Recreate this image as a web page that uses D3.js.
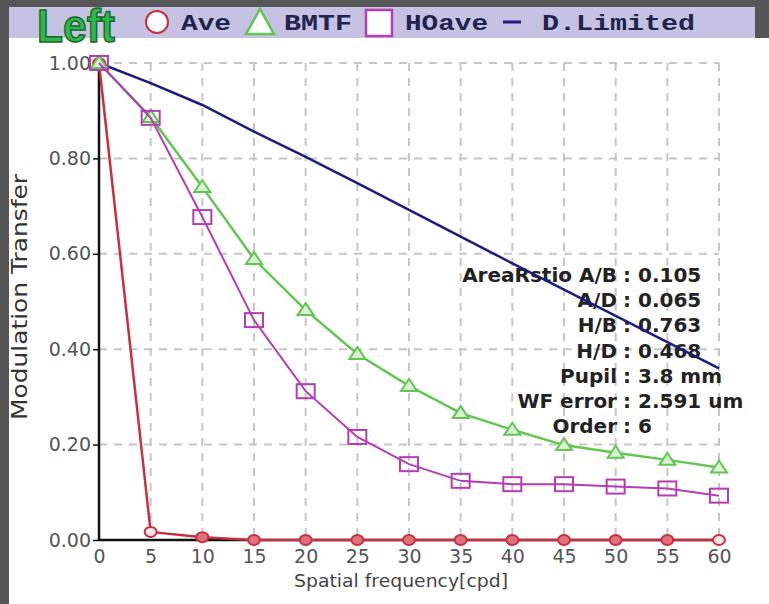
<!DOCTYPE html>
<html>
<head>
<meta charset="utf-8">
<title>MTF Left</title>
<style>
  body { margin: 0; background: #fff; }
  svg { display: block; }
  .grid line { stroke: #c6c6c6; stroke-width: 2; stroke-dasharray: 8,7; }
  .tick-label { font: 19px "DejaVu Sans", sans-serif; fill: #555; }
  .axis-title { font: 18px "DejaVu Sans", sans-serif; fill: #444; }
  .legend-text { font: bold 22px "Liberation Mono", monospace; fill: #22224e; }
  .info { font: bold 20px "DejaVu Sans", sans-serif; fill: #222; }
</style>
</head>
<body>
<div id="chart"></div>
<script src="https://d3js.org/d3.v7.min.js"></script>
<script>
// data
var freq      = [0, 5, 10, 15, 20, 25, 30, 35, 40, 45, 50, 55, 60];
var ave       = [1.0, 0.017, 0.006, 0, 0, 0, 0, 0, 0, 0, 0, 0, 0];
var bmtf      = [1.0, 0.887, 0.74, 0.589, 0.482, 0.39, 0.323, 0.266, 0.231, 0.199, 0.183, 0.168, 0.152];
var hoave     = [1.0, 0.885, 0.677, 0.461, 0.312, 0.216, 0.159, 0.124, 0.117, 0.117, 0.112, 0.108, 0.093];
var dLimited  = [1.0, 0.958, 0.912, 0.856, 0.803, 0.748, 0.692, 0.636, 0.58, 0.525, 0.47, 0.415, 0.36];
var yTicks    = [0, 0.2, 0.4, 0.6, 0.8, 1.0];
var xTicks    = freq;
var legendNames = ["Ave", "BMTF", "HOave", "D.Limited"];
var infoLabels  = ["AreaRstio A/B", "A/D", "H/B", "H/D", "Pupil", "WF error", "Order"];
var infoValues  = ["0.105", "0.065", "0.763", "0.468", "3.8 mm", "2.591 um", "6"];

var width = 769, height = 604;
var red = "#c9303f", green = "#62c651", magenta = "#b43db4", navy = "#1c1c7e";

var svg = d3.select("#chart").append("svg")
    .attr("width", width)
    .attr("height", height);

// frame: dark border + lavender legend strip
svg.append("rect").attr("x", 0).attr("y", 0).attr("width", width).attr("height", height).attr("fill", "#fff");
svg.append("rect").attr("x", 0).attr("y", 0).attr("width", width).attr("height", 7).attr("fill", "#565656");
svg.append("rect").attr("x", 0).attr("y", 0).attr("width", 9).attr("height", height).attr("fill", "#565656");
svg.append("rect").attr("x", 755).attr("y", 0).attr("width", 14).attr("height", 38).attr("fill", "#565656");
svg.append("rect").attr("x", 9).attr("y", 7).attr("width", 746).attr("height", 31).attr("fill", "#c5c2e4");

var x = d3.scaleLinear().domain([0, 60]).range([99, 719]);
var y = d3.scaleLinear().domain([0, 1]).range([540, 63]);

// grid
var grid = svg.append("g").attr("class", "grid");
grid.selectAll(".gx").data(xTicks.filter(function(d) { return d > 0; }))
    .enter().append("line")
    .attr("x1", function(d) { return x(d); }).attr("x2", function(d) { return x(d); })
    .attr("y1", y(1)).attr("y2", y(0));
grid.selectAll(".gy").data(yTicks.filter(function(d) { return d > 0; }))
    .enter().append("line")
    .attr("y1", function(d) { return y(d); }).attr("y2", function(d) { return y(d); })
    .attr("x1", x(0)).attr("x2", x(60));

// axes
var yAxis = svg.append("g").attr("transform", "translate(" + x(0) + ",0)")
    .call(d3.axisLeft(y).tickValues(yTicks).tickSize(6).tickPadding(2).tickFormat(d3.format(".2f")));
var xAxis = svg.append("g").attr("transform", "translate(0," + y(0) + ")")
    .call(d3.axisBottom(x).tickValues(xTicks).tickSize(0).tickPadding(10));
[xAxis, yAxis].forEach(function(a) {
    a.select(".domain").attr("stroke", "#111").attr("stroke-width", 2.5);
    a.selectAll(".tick line").attr("stroke", "#111").attr("stroke-width", 1.5);
    a.selectAll(".tick text").attr("class", "tick-label").attr("fill", null).style("font", null);
});
yAxis.select(".domain").attr("d", "M0," + y(0) + "V" + y(1));
xAxis.select(".domain").attr("d", "M" + x(0) + ",0H" + x(60));

// axis titles
svg.append("text").attr("class", "axis-title")
    .attr("x", 401).attr("y", 587).attr("text-anchor", "middle")
    .attr("textLength", 214).attr("lengthAdjust", "spacingAndGlyphs")
    .text("Spatial frequency[cpd]");
svg.append("text").attr("class", "axis-title")
    .attr("transform", "translate(27,297) rotate(-90)")
    .attr("text-anchor", "middle").style("font-size", "22px").style("fill", "#333")
    .attr("textLength", 246).attr("lengthAdjust", "spacingAndGlyphs")
    .text("Modulation Transfer");

// info block
var info = svg.append("g");
infoLabels.forEach(function(lab, i) {
    var yy = 282 + i * 25.2;
    info.append("text").attr("class", "info").attr("x", 617).attr("y", yy)
        .attr("text-anchor", "end").text(lab);
    info.append("text").attr("class", "info").attr("x", 623).attr("y", yy)
        .text(": " + infoValues[i]);
});

// series
var line = d3.line()
    .x(function(d, i) { return x(freq[i]); })
    .y(function(d) { return y(d); });

svg.append("path").datum(dLimited).attr("d", line)
    .attr("fill", "none").attr("stroke", navy).attr("stroke-width", 2.5);

svg.append("path").datum(ave).attr("d", line)
    .attr("fill", "none").attr("stroke", red).attr("stroke-width", 2.5);
svg.selectAll(".mAve").data(ave).enter().append("ellipse")
    .attr("cx", function(d, i) { return x(freq[i]); })
    .attr("cy", function(d) { return y(d); })
    .attr("rx", 6).attr("ry", 5)
    .attr("fill", function(d, i) { return i < 2 || i == 12 ? "#fbe4e6" : "#e07280"; })
    .attr("stroke", red).attr("stroke-width", 2);

svg.append("path").datum(bmtf).attr("d", line)
    .attr("fill", "none").attr("stroke", green).attr("stroke-width", 2.5);
svg.selectAll(".mB").data(bmtf).enter().append("path")
    .attr("transform", function(d, i) { return "translate(" + x(freq[i]) + "," + y(d) + ")"; })
    .attr("d", "M0,-7L8,5L-8,5Z")
    .attr("fill", "#d9f2d4").attr("stroke", green).attr("stroke-width", 2);

svg.append("path").datum(hoave).attr("d", line)
    .attr("fill", "none").attr("stroke", magenta).attr("stroke-width", 2);
svg.selectAll(".mH").data(hoave).enter().append("rect")
    .attr("x", function(d, i) { return x(freq[i]) - 9; })
    .attr("y", function(d) { return y(d) - 7; })
    .attr("width", 18).attr("height", 14)
    .attr("fill", "none").attr("stroke", magenta).attr("stroke-width", 2);

// legend
svg.append("text").attr("x", 37).attr("y", 42)
    .attr("textLength", 78).attr("lengthAdjust", "spacingAndGlyphs")
    .style("font", "bold 46px 'Liberation Sans Narrow', 'Liberation Sans', sans-serif")
    .attr("fill", "#2eb84c").attr("stroke", "#17682a").attr("stroke-width", 1.5)
    .text("Left");

var lg = svg.append("g");
lg.append("circle").attr("cx", 157).attr("cy", 22).attr("r", 11)
    .attr("fill", "#fff").attr("stroke", red).attr("stroke-width", 2);
lg.append("path").attr("d", "M260,9L246,34L274,34Z")
    .attr("fill", "#fff").attr("stroke", green).attr("stroke-width", 2.5);
lg.append("rect").attr("x", 366).attr("y", 10).attr("width", 26).attr("height", 26)
    .attr("fill", "#fff").attr("stroke", magenta).attr("stroke-width", 2.5);
lg.append("line").attr("x1", 503).attr("x2", 521).attr("y1", 22).attr("y2", 22)
    .attr("stroke", navy).attr("stroke-width", 3);

var legendX = [181, 284, 405, 542];
var legendW = [50, 68, 83, 153];
lg.selectAll(".lt").data(legendNames).enter().append("text")
    .attr("class", "legend-text")
    .attr("x", function(d, i) { return legendX[i]; })
    .attr("y", 30)
    .attr("textLength", function(d, i) { return legendW[i]; })
    .attr("lengthAdjust", "spacingAndGlyphs")
    .text(function(d) { return d; });
</script>
</body>
</html>
